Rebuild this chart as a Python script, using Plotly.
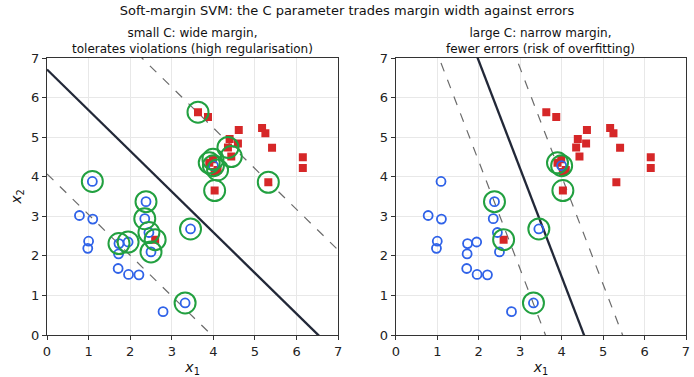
import plotly.graph_objects as go
from plotly.subplots import make_subplots

# ---- data ----
blue_x = [1.09, 0.78, 1.10, 1.00, 0.98, 1.73, 1.95, 1.72, 1.71, 1.96, 2.21, 2.38, 2.35, 2.45, 2.50, 3.45, 3.32, 2.79, 4.00]
blue_y = [3.88, 3.02, 2.93, 2.37, 2.19, 2.31, 2.35, 2.05, 1.68, 1.53, 1.52, 3.37, 2.94, 2.59, 2.10, 2.68, 0.81, 0.59, 4.28]
red_x = [3.63, 3.87, 4.61, 5.17, 5.25, 4.39, 4.59, 4.35, 4.43, 5.41, 6.15, 6.15, 5.32, 4.03, 3.99, 3.90, 4.10, 4.03, 2.60]
red_y = [5.63, 5.51, 5.18, 5.23, 5.10, 4.95, 4.84, 4.74, 4.51, 4.73, 4.49, 4.22, 3.86, 3.65, 4.44, 4.35, 4.17, 4.12, 2.41]

# support vectors (indices into the arrays above)
sv_small_blue = [0, 5, 6, 11, 12, 13, 14, 15, 16, 18]
sv_small_red = [0, 7, 8, 12, 13, 14, 15, 16, 18]
sv_large_blue = [11, 15, 16, 18]
sv_large_red = [13, 15, 18]

# decision function w1*x + w2*y + b
w_small = (0.390, 0.379)
b_small = -2.543
w_large = (1.075, 0.394)
b_large = -4.88

titles = ["small C: wide margin,<br>tolerates violations (high regularisation)",
          "large C: narrow margin,<br>fewer errors (risk of overfitting)"]

BLUE = "#2f62e8"
RED = "#d62728"
GREEN = "#22a040"
NAVY = "#222838"
GREY = "#6b6b6b"

fig = make_subplots(rows=1, cols=2, horizontal_spacing=0.09, subplot_titles=titles)


def line_pts(w, b, level):
    # y = (level - b - w1 x)/w2 sampled at x = 0 and 7
    xs = [0.0, 7.0]
    ys = [(level - b - w[0] * x) / w[1] for x in xs]
    return xs, ys


panels = [(w_small, b_small, sv_small_blue, sv_small_red),
          (w_large, b_large, sv_large_blue, sv_large_red)]

for c, (w, b, svb, svr) in enumerate(panels, start=1):
    for level, dash, color, width in [(1, "dash", GREY, 1.2), (-1, "dash", GREY, 1.2), (0, "solid", NAVY, 2.3)]:
        xs, ys = line_pts(w, b, level)
        fig.add_trace(go.Scatter(x=xs, y=ys, mode="lines",
                                 line=dict(color=color, width=width, dash=dash),
                                 showlegend=False, hoverinfo="skip"), row=1, col=c)
    fig.add_trace(go.Scatter(x=red_x, y=red_y, mode="markers",
                             marker=dict(symbol="square", size=8, color=RED),
                             showlegend=False), row=1, col=c)
    fig.add_trace(go.Scatter(x=blue_x, y=blue_y, mode="markers",
                             marker=dict(symbol="circle-open", size=9, color=BLUE, line=dict(width=1.8)),
                             showlegend=False), row=1, col=c)
    sx = [blue_x[i] for i in svb] + [red_x[i] for i in svr]
    sy = [blue_y[i] for i in svb] + [red_y[i] for i in svr]
    fig.add_trace(go.Scatter(x=sx, y=sy, mode="markers",
                             marker=dict(symbol="circle-open", size=21, color=GREEN, line=dict(width=2)),
                             showlegend=False), row=1, col=c)

axis_common = dict(range=[0, 7], dtick=1, tick0=0, showgrid=True, gridcolor="#e8e8e8", gridwidth=1,
                   showline=True, linecolor="#333", linewidth=1.2, mirror=True,
                   ticks="outside", ticklen=4, tickcolor="#333", zeroline=False,
                   tickfont=dict(size=13, color="#222"))
fig.update_xaxes(**axis_common, title=dict(text="<i>x</i><sub>1</sub>", font=dict(size=14), standoff=4))
fig.update_yaxes(**axis_common)
fig.update_yaxes(title=dict(text="<i>x</i><sub>2</sub>", font=dict(size=14), standoff=6), row=1, col=1)

fig.update_annotations(font=dict(size=12, color="#111"))

fig.update_layout(
    width=694, height=377,
    margin=dict(l=47, r=4, t=58, b=39),
    paper_bgcolor="white", plot_bgcolor="white",
    font=dict(family="DejaVu Sans", color="#111"),
    title=dict(text="Soft-margin SVM: the C parameter trades margin width against errors",
               x=0.5, xanchor="center", y=0.985, yanchor="top", font=dict(size=13)),
)
fig.layout.xaxis.domain = [0, 0.4557]
fig.layout.xaxis2.domain = [0.5459, 1]

fig.write_html("out.html")
